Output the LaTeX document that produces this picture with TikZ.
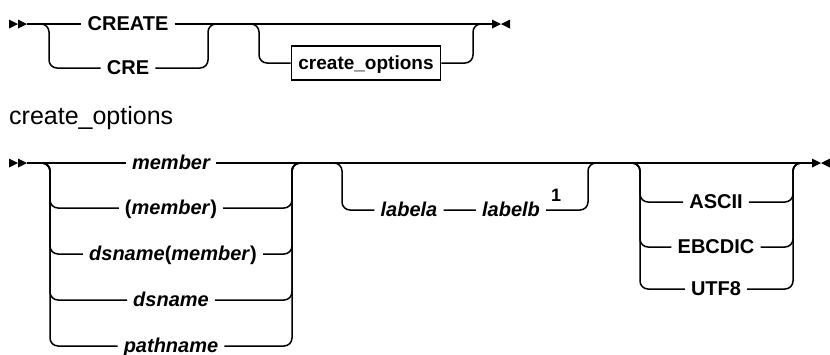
\documentclass[tikz,border=0pt]{standalone}
\usepackage{fontspec}
\setmainfont{Liberation Sans}
\usetikzlibrary{calc}

\begin{document}
\begin{tikzpicture}[x=1pt,y=-1pt,
  rail/.style={line width=1.5pt,rounded corners=8pt},
  kw/.style={font=\fontsize{20}{23}\selectfont\bfseries,inner xsep=6pt,inner ysep=0pt,
    text height=12pt,text depth=0pt},
  var/.style={kw,font=\fontsize{20}{23}\selectfont\bfseries\itshape},
  optbox/.style={draw,line width=1.5pt,font=\fontsize{19}{22}\selectfont\bfseries,
    inner xsep=7pt,minimum height=34pt,text height=12pt,text depth=0pt}
]
  \useasboundingbox (0,0) rectangle (830,354);

  % CREATE command
  \fill (9,19.5) -- (18,24) -- (9,28.5) -- cycle (18,19.5) -- (27,24) -- (18,28.5) -- cycle;
  \coordinate (t0) at (27,24);
  \coordinate (tl) at (49,24);
  \coordinate (tr) at (208,24);
  \coordinate (ol) at (259,24);
  \coordinate (or) at (473,24);
  \coordinate (t1) at (492,24);
  \node[kw] (create) at (128,24) {CREATE};
  \node[kw] (cre) at (128,68) {CRE};
  \node[optbox] (copt) at (366,63) {create\_options};
  \draw[rail] (t0) -- (create) -- (t1);
  \draw[rail] (t0) -| (tl |- cre) -- (cre) -| (tr) -- (ol);
  \draw[rail] (tr) -| (ol |- copt) -- (copt) -| (or) -- (t1);
  \fill (492,19.5) -- (501,24) -- (492,28.5) -- cycle (510,19.5) -- (501,24) -- (510,28.5) -- cycle;

  % create_options fragment
  \node[font=\fontsize{25}{29}\selectfont,anchor=base west,inner sep=0pt] (hdr) at (9,124) {create\_options};
  \fill (9,158.5) -- (18,163) -- (9,167.5) -- cycle (18,158.5) -- (27,163) -- (18,167.5) -- cycle;
  \coordinate (b0) at (27,163);
  \coordinate (al) at (50,163);
  \coordinate (ar) at (292,163);
  \coordinate (ll) at (342,163);
  \coordinate (lr) at (588,163);
  \coordinate (el) at (640,163);
  \coordinate (er) at (793,163);
  \coordinate (b1) at (812,163);
  \node[var] (mem) at (171,163) {member};
  \node[var] (pmem) at (171,208) {\textup{(}member\textup{)}};
  \node[var] (dsmem) at (173,254) {dsname\textup{(}member\textup{)}};
  \node[var] (ds) at (171,300) {dsname};
  \node[var] (path) at (171,346) {pathname};
  \node[var] (la) at (409,210) {labela};
  \node[var] (lb) at (511,210) {labelb};
  \node[kw,font=\fontsize{18}{20}\selectfont\bfseries,inner sep=0pt] (note) at (556,195) {1};
  \node[kw] (ascii) at (716,202) {ASCII};
  \node[kw] (ebc) at (716,247) {EBCDIC};
  \node[kw] (utf) at (716,289) {UTF8};
  \draw[rail] (b0) -- (mem) -- (b1);
  \foreach \n in {pmem,dsmem,ds,path}
    \draw[rail] (b0) -| (al |- \n) -- (\n) -| (ar) -- (ll);
  \draw[rail] (ar) -| (ll |- la) -- (la) -- (lb) -| (lr) -- (el);
  \foreach \n in {ascii,ebc,utf}
    \draw[rail] (lr) -| (el |- \n) -- (\n) -| (er) -- (b1);
  \fill (812,158.5) -- (821,163) -- (812,167.5) -- cycle (830,158.5) -- (821,163) -- (830,167.5) -- cycle;
\end{tikzpicture}
\end{document}
